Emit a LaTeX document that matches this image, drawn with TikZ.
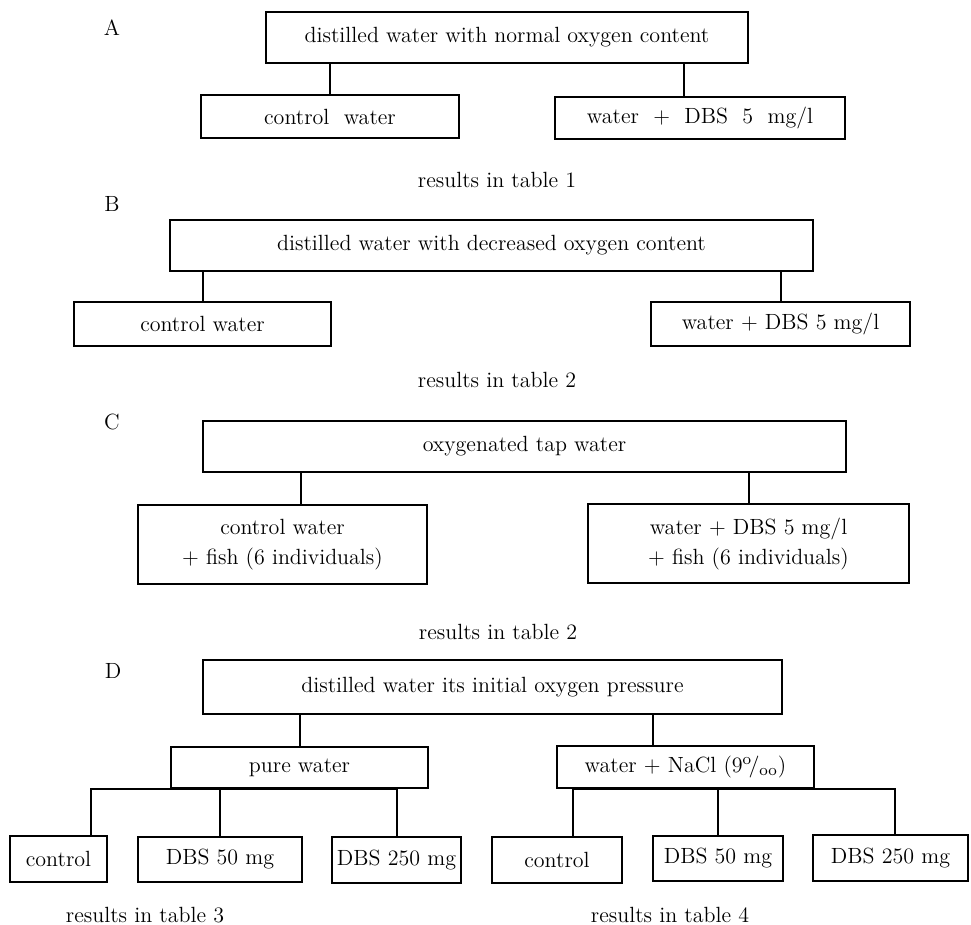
\documentclass[tikz,border=0pt]{standalone}
\usetikzlibrary{calc}
\newcommand{\boxfont}{\fontsize{11}{15}\selectfont}
\begin{document}
\begin{tikzpicture}[x=0.5pt,y=-0.5pt,line width=1pt,
    every node/.style={font=\boxfont},
    box/.style={draw,inner sep=2pt,align=center}]
\useasboundingbox (0,0) rectangle (971,925);
% A
\node (labA) at (112,28) {A};
\node[box,minimum width=241pt,minimum height=25.5pt] (topA) at (507,37.5) {distilled water with normal oxygen content};
\node[box,minimum width=129pt,minimum height=21.5pt] (ctlA) at (330,116.5) {control~~water};
\node[box,minimum width=145pt,minimum height=21pt] (dbsA) at (700,118) {water~~+~~DBS~~5~~mg/l};
\node (resA) at (497,180) {results in table 1};
\draw (ctlA.north) -- (ctlA.north |- topA.south);
\draw ($(dbsA.north)+(-16,0)$) coordinate (a2) -- (a2 |- topA.south);
% B
\node (labB) at (112,204) {B};
\node[box,minimum width=321.5pt,minimum height=25.5pt] (topB) at (491.5,245.5) {distilled water with decreased oxygen content};
\node[box,minimum width=128.5pt,minimum height=22pt] (ctlB) at (202.5,324) {control water};
\node[box,minimum width=129.5pt,minimum height=22pt] (dbsB) at (780.5,324) {water + DBS 5 mg/l};
\node (resB) at (497,380) {results in table 2};
\draw (ctlB.north) -- (ctlB.north |- topB.south);
\draw (dbsB.north) -- (dbsB.north |- topB.south);
% C
\node (labC) at (112,422) {C};
\node[box,minimum width=321.5pt,minimum height=25.5pt] (topC) at (524.5,446.5) {oxygenated tap water};
\node[box,minimum width=144.5pt,minimum height=39.5pt] (ctlC) at (282.5,544.5) {control water\\+ fish (6 individuals)};
\node[box,minimum width=160.5pt,minimum height=39.5pt] (dbsC) at (748.5,544) {water + DBS 5 mg/l\\+ fish (6 individuals)};
\node (resC) at (498,632) {results in table 2};
\draw ($(ctlC.north)+(18.5,0)$) coordinate (c1) -- (c1 |- topC.south);
\draw (dbsC.north) -- (dbsC.north |- topC.south);
% D
\node (labD) at (113,671) {D};
\node[box,minimum width=289.5pt,minimum height=27pt] (topD) at (492.5,687) {distilled water its initial oxygen pressure};
\node[box,minimum width=128.5pt,minimum height=20.5pt] (pure) at (299.5,767.5) {pure water};
\node[box,minimum width=128.5pt,minimum height=21pt] (nacl) at (685.5,767) {water + NaCl (9$^{\mathrm{o}}\!/_{\mathrm{oo}}$)};
\draw (pure.north) -- (pure.north |- topD.south);
\draw ($(nacl.north)+(-32.5,0)$) coordinate (d2) -- (d2 |- topD.south);
% bottom row
\node[box,minimum width=48.5pt,minimum height=23pt] (ctlL) at (58.5,859) {control};
\node[box,minimum width=82pt,minimum height=22.5pt] (d50L) at (220,859) {DBS 50 mg};
\node[box,minimum width=64.5pt,minimum height=23pt] (d250L) at (396.5,860) {DBS 250 mg};
\node[box,minimum width=65pt,minimum height=23pt] (ctlR) at (557,860) {control};
\node[box,minimum width=65pt,minimum height=22.5pt] (d50R) at (718,858.5) {DBS 50 mg};
\node[box,minimum width=77.5pt,minimum height=23pt] (d250R) at (890.5,858) {DBS 250 mg};
\draw ($(ctlL.north)+(32.5,0)$) |- (pure.south) -| (d250L.north);
\draw (d50L.north) -- (d50L.north |- pure.south);
\draw ($(ctlR.north)+(16,0)$) |- (nacl.south) -| ($(d250R.north)+(4.5,0)$);
\draw (d50R.north) -- (d50R.north |- nacl.south);
\node (res3) at (145,915) {results in table 3};
\node (res4) at (670,915) {results in table 4};
\end{tikzpicture}
\end{document}
